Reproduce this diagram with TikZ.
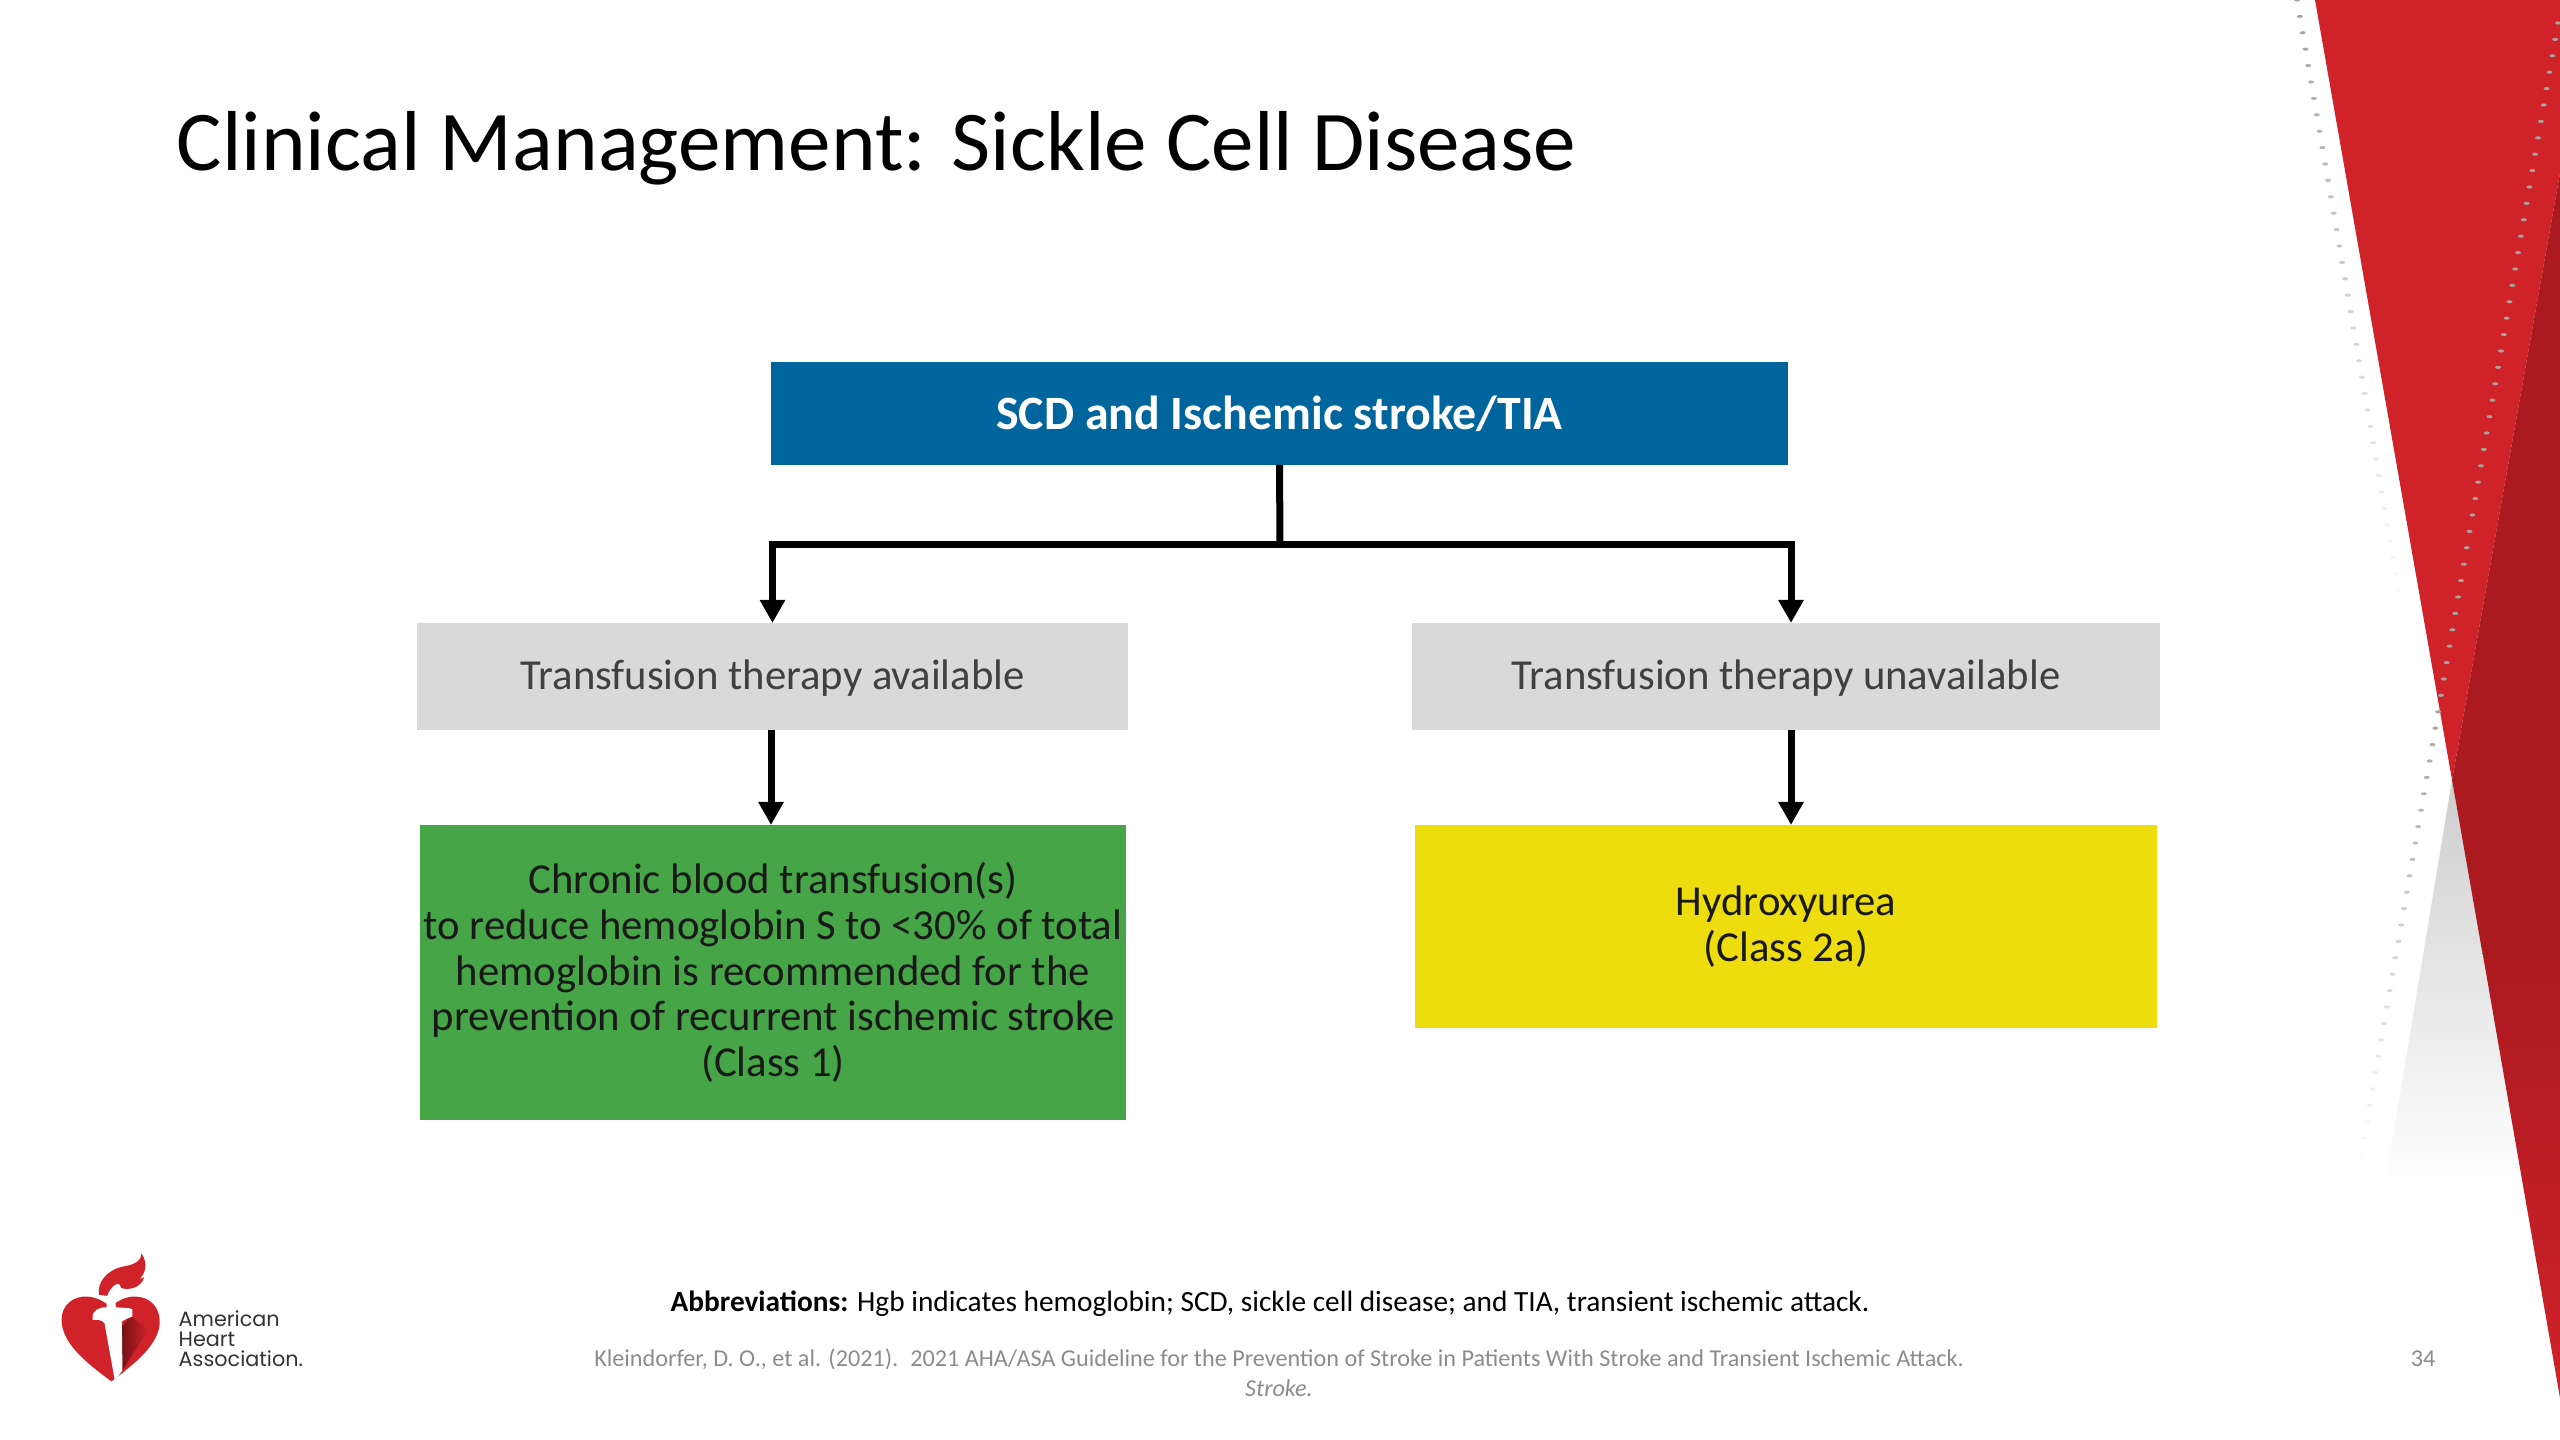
\documentclass[tikz,border=0pt]{standalone}
\usepackage{fontspec}
\setmainfont{Carlito}
\newfontfamily\logofont{Poppins}
\usetikzlibrary{positioning,arrows.meta}
\definecolor{ahablue}{HTML}{00659C}
\definecolor{ahagrey}{HTML}{D9D9D9}
\definecolor{ahagreen}{HTML}{46A546}
\definecolor{ahayellow}{HTML}{EEDD0E}
\definecolor{ahared}{HTML}{CF2229}
\definecolor{ahadark}{HTML}{AB1A1F}
\definecolor{ahafoot}{HTML}{8C8C8C}
\definecolor{ahadots}{HTML}{A8A29C}
\newcommand{\bodysize}{\fontsize{12.15}{13}\selectfont}
\tikzstyle{boxstyle}=[shape=rectangle,inner sep=0pt,outer sep=0pt,align=center,text=black!90,font=\bodysize]
\tikzstyle{headstyle}=[boxstyle,fill=ahablue,text=white,minimum width=10.17cm,minimum height=1.025cm,font=\fontsize{13.6}{16}\selectfont\bfseries]
\tikzstyle{choicestyle}=[boxstyle,fill=ahagrey,text=black!75,minimum height=1.07cm,text depth=1pt]
\tikzstyle{flowstyle}=[line width=0.07cm,black,-{Triangle[length=0.23cm,width=0.24cm]}]
\tikzstyle{footstyle}=[inner sep=0pt,text=ahafoot,font=\fontsize{6.88}{8.5}\selectfont]
\newcommand{\dotmark}[3]{\fill[ahadots,opacity=#3] (#1,#2) ellipse (3 and 1.6);}
\begin{document}
\begin{tikzpicture}[x=0.01cm,y=-0.01cm]
\useasboundingbox (0,0) rectangle (2560,1440);
% red corner
\shade[top color=ahagrey!95!black,bottom color=white] (2452,780) -- (2385,1185) -- (2523,1185) -- cycle;
\fill[ahared] (2315,0) -- (2560,0) -- (2560,173) -- (2452,780) -- cycle;
\fill[ahadark] (2560,173) -- (2452,780) -- (2482,951) -- (2560,951) -- cycle;
\shade[top color=ahadark,bottom color=ahared] (2482,950) -- (2560,950) -- (2560,1398) -- cycle;
\foreach \i in {0,...,37} {
  \pgfmathsetmacro{\doty}{\i*16.4}
  \pgfmathsetmacro{\dotx}{2297+\doty*0.172}
  \pgfmathsetmacro{\dotop}{1-\i/38}
  \dotmark{\dotx}{\doty}{\dotop}
}
\foreach \i in {0,...,70} {
  \pgfmathsetmacro{\doty}{23+\i*16.4}
  \pgfmathsetmacro{\dotx}{2558-(\doty-23)*0.174}
  \pgfmathsetmacro{\dotop}{\doty<700 ? 1 : (1178-\doty)/478}
  \dotmark{\dotx}{\doty}{\dotop}
}
% title
\node[anchor=base west,inner sep=0pt,text=black,font=\fontsize{24.2}{29}\selectfont] (title) at (176,171) {Clinical Management: Sickle Cell Disease};
% boxes
\node[headstyle] (scd) at (1279.5,413.5) {SCD and Ischemic stroke/TIA};
\node[choicestyle,minimum width=7.11cm] (avail) at (772.5,676.5) {Transfusion therapy available};
\node[choicestyle,minimum width=7.48cm] (unavail) at (1786,676.5) {Transfusion therapy unavailable};
\node[boxstyle,fill=ahagreen,minimum width=7.06cm,minimum height=2.95cm] (chronic) at (773,972.5) {Chronic blood transfusion(s)\\to reduce hemoglobin S to <30\% of total\\hemoglobin is recommended for the\\prevention of recurrent ischemic stroke\\(Class 1)};
\node[boxstyle,fill=ahayellow,minimum width=7.42cm,minimum height=2.03cm] (hydroxy) at (1786,926.5) {Hydroxyurea\\(Class 2a)};
% connectors
\coordinate (fork) at (1280,545);
\coordinate (availbot) at (771,730);
\coordinate (chronictop) at (771,825);
\coordinate (unavailtop) at (1791,623);
\coordinate (unavailbot) at (1791,730);
\coordinate (hydroxytop) at (1791,825);
\draw[line width=0.07cm] (scd.south) -- (fork);
\draw[flowstyle] (fork) -| (avail.north);
\draw[flowstyle] (fork) -| (unavailtop);
\draw[flowstyle] (availbot) -- (chronictop);
\draw[flowstyle] (unavailbot) -- (hydroxytop);
% footer
\node[inner sep=0pt,text=black,font=\fontsize{8.34}{10}\selectfont] (abbrev) at (1270,1304) {\textbf{Abbreviations:} Hgb indicates hemoglobin; SCD, sickle cell disease; and TIA, transient ischemic attack.};
\node[footstyle] (cite) at (1279,1359) {Kleindorfer, D. O., et al. (2021).\enspace 2021 AHA/ASA Guideline for the Prevention of Stroke in Patients With Stroke and Transient Ischemic Attack.};
\node[footstyle,font=\fontsize{6.88}{8.5}\itshape] (journal) at (1279,1388) {Stroke.};
\node[footstyle] (page) at (2423,1359) {34};
% logo
\begin{scope}[shift={(0,1220)},x=0.00333cm,y=-0.00333cm]
\fill[ahared] (335,485) .. controls (260,430) and (185,370) .. (185,300) .. controls (185,255) and (220,228) .. (262,230) .. controls (290,232) and (315,245) .. (332,262) .. controls (350,245) and (375,230) .. (405,230) .. controls (450,230) and (480,262) .. (480,305) .. controls (480,375) and (400,435) .. (335,485) -- cycle;
\shade[left color=ahadark!70!black,right color=ahared] (368,318) -- (395,290) -- (445,330) -- (368,452) -- cycle;
\fill[white] (278,292) .. controls (278,270) and (300,262) .. (320,262) -- (322,232) -- (345,225) -- (348,262) .. controls (365,265) and (385,262) .. (398,268) -- (398,290) .. controls (385,295) and (375,298) .. (366,305) -- (368,452) -- (345,482) -- (314,310) .. controls (305,298) and (290,300) .. (278,300) -- cycle;
\fill[ahared] (298,225) .. controls (290,190) and (320,150) .. (370,140) .. controls (400,135) and (425,125) .. (425,100) .. controls (445,130) and (438,160) .. (418,178) -- (433,172) .. controls (425,200) and (395,212) .. (365,205) -- (358,192) .. controls (345,190) and (330,205) .. (322,228) -- cycle;
\node[anchor=base west,inner sep=0pt,text=black!80,align=left,font=\logofont\fontsize{5.9}{5.7}\selectfont] (logotext) at (535,440) {American\\Heart\\Association.};
\end{scope}
\end{tikzpicture}
\end{document}
